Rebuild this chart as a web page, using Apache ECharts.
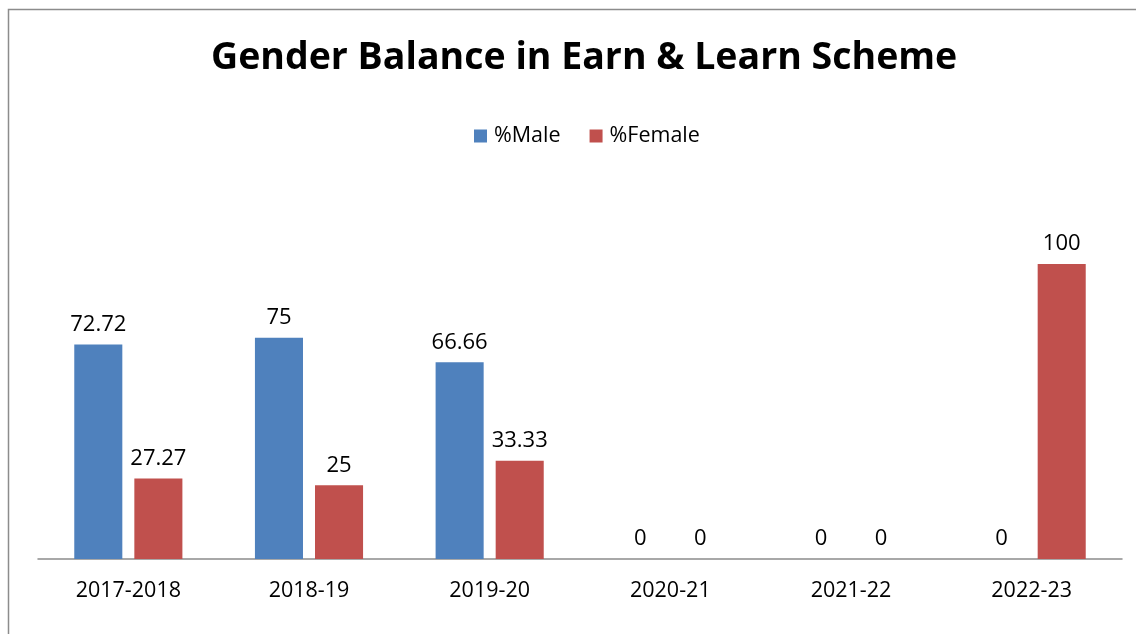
<!DOCTYPE html>
<html>
<head>
<meta charset="utf-8">
<script src="https://cdn.jsdelivr.net/npm/echarts@6/dist/echarts.min.js"></script>
<style>
  html, body { margin: 0; padding: 0; background: #fff; }
  #chart { width: 1136px; height: 634px; }
</style>
</head>
<body>
<div id="chart"></div>
<script>
// School years on the category axis
const years = ['2017-2018', '2018-19', '2019-20', '2020-21', '2021-22', '2022-23'];
// Share of male and female participants, in percent
const malePct = [72.72, 75, 66.66, 0, 0, 0];
const femalePct = [27.27, 25, 33.33, 0, 0, 100];

const font = 'Open Sans, Noto Sans, sans-serif';
const chart = echarts.init(document.getElementById('chart'));

const label = {
  show: true,
  position: 'top',
  distance: 9,
  color: '#000',
  fontSize: 22,
  fontFamily: font
};

chart.setOption({
  animation: false,
  title: {
    text: 'Gender Balance in Earn & Learn Scheme',
    left: 206,
    top: 34,
    textStyle: { fontSize: 37.5, fontWeight: 'bold', color: '#000', fontFamily: font }
  },
  legend: {
    top: 120,
    left: 469,
    itemWidth: 13,
    itemHeight: 13,
    itemGap: 29,
    icon: 'rect',
    textStyle: { fontSize: 21.5, color: '#000', fontFamily: font, padding: [0, 0, 0, 2] }
  },
  graphic: [{
    type: 'rect',
    shape: { x: 8.5, y: 9.5, width: 1200, height: 700 },
    style: { fill: 'none', stroke: '#8c8c8c', lineWidth: 1.5 },
    silent: true
  }],
  grid: { left: 38, right: 14, top: 205, bottom: 75 },
  xAxis: {
    type: 'category',
    data: years,
    axisLine: { lineStyle: { color: '#8c8c8c', width: 1.5 } },
    axisTick: { show: false },
    axisLabel: { fontSize: 21.5, color: '#000', margin: 21, fontFamily: font }
  },
  yAxis: {
    type: 'value',
    min: 0,
    max: 120,
    show: false,
    splitLine: { show: false }
  },
  series: [
    {
      name: '%Male',
      type: 'bar',
      data: malePct,
      barWidth: '26.6%',
      barGap: '25%',
      itemStyle: { color: '#4f81bd' },
      label: label
    },
    {
      name: '%Female',
      type: 'bar',
      data: femalePct,
      barWidth: '26.6%',
      itemStyle: { color: '#c0504d' },
      label: label
    }
  ]
});
</script>
</body>
</html>
